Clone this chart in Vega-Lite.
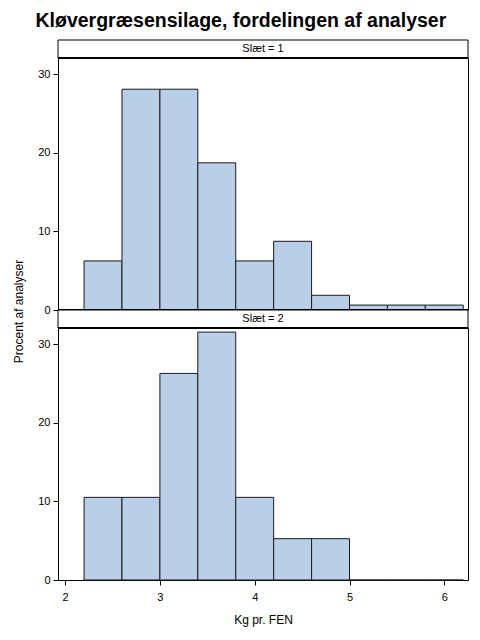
{
  "$schema": "https://vega.github.io/schema/vega-lite/v6.json",
  "padding": {"left": 12, "top": 11, "right": 11, "bottom": 10},
  "background": "white",
  "bounds": "flush",
  "title": {
    "text": "Kløvergræsensilage, fordelingen af analyser",
    "font": "Liberation Sans",
    "fontSize": 19.5,
    "fontWeight": "bold",
    "color": "black",
    "anchor": "middle",
    "offset": 8
  },
  "datasets": {
    "hist": [
      {"slaet": 1, "start": 2.2, "end": 2.6, "pct": 6.25},
      {"slaet": 1, "start": 2.6, "end": 3.0, "pct": 28.125},
      {"slaet": 1, "start": 3.0, "end": 3.4, "pct": 28.125},
      {"slaet": 1, "start": 3.4, "end": 3.8, "pct": 18.75},
      {"slaet": 1, "start": 3.8, "end": 4.2, "pct": 6.25},
      {"slaet": 1, "start": 4.2, "end": 4.6, "pct": 8.75},
      {"slaet": 1, "start": 4.6, "end": 5.0, "pct": 1.875},
      {"slaet": 1, "start": 5.0, "end": 5.4, "pct": 0.625},
      {"slaet": 1, "start": 5.4, "end": 5.8, "pct": 0.625},
      {"slaet": 1, "start": 5.8, "end": 6.2, "pct": 0.625},
      {"slaet": 2, "start": 2.2, "end": 2.6, "pct": 10.526},
      {"slaet": 2, "start": 2.6, "end": 3.0, "pct": 10.526},
      {"slaet": 2, "start": 3.0, "end": 3.4, "pct": 26.316},
      {"slaet": 2, "start": 3.4, "end": 3.8, "pct": 31.579},
      {"slaet": 2, "start": 3.8, "end": 4.2, "pct": 10.526},
      {"slaet": 2, "start": 4.2, "end": 4.6, "pct": 5.263},
      {"slaet": 2, "start": 4.6, "end": 5.0, "pct": 5.263},
      {"slaet": 2, "start": 5.0, "end": 5.4, "pct": 0},
      {"slaet": 2, "start": 5.4, "end": 5.8, "pct": 0},
      {"slaet": 2, "start": 5.8, "end": 6.2, "pct": 0}
    ],
    "strips": [
      {"slaet": 1, "label": "Slæt = 1"},
      {"slaet": 2, "label": "Slæt = 2"}
    ]
  },
  "spacing": 0,
  "vconcat": [
    {
      "width": 410,
      "height": 18,
      "data": {"name": "strips"},
      "transform": [{"filter": "datum.slaet == 1"}],
      "layer": [
        {"mark": {"type": "rect", "fill": "white", "stroke": "black", "strokeWidth": 1}, "encoding": {}},
        {"mark": {"type": "text", "font": "Liberation Sans", "fontSize": 11, "color": "black"},
         "encoding": {"text": {"field": "label", "type": "nominal"}}}
      ]
    },
    {
      "width": 410,
      "height": 252,
      "data": {"name": "hist"},
      "transform": [{"filter": "datum.slaet == 1"}],
      "layer": [
        {
          "mark": {"type": "rect", "fill": "#b9cfe7", "stroke": "#1a1a1a", "strokeWidth": 1},
          "encoding": {
            "x": {"field": "start", "type": "quantitative", "scale": {"domain": [1.925, 6.25], "nice": false, "zero": false}, "axis": null},
            "x2": {"field": "end"},
            "y": {
              "field": "pct", "type": "quantitative",
              "scale": {"domain": [0, 32.1], "nice": false},
              "axis": {"values": [0, 10, 20, 30], "title": "Procent af analyser", "titleY": 253}
            },
            "y2": {"datum": 0}
          }
        },
        {
          "mark": {"type": "rule", "color": "black", "strokeWidth": 2},
          "encoding": {"y": {"datum": 32.1}}
        },
        {
          "mark": {"type": "rule", "color": "black", "strokeWidth": 2},
          "encoding": {"y": {"datum": 0}}
        }
      ]
    },
    {
      "width": 410,
      "height": 18,
      "data": {"name": "strips"},
      "transform": [{"filter": "datum.slaet == 2"}],
      "layer": [
        {"mark": {"type": "rect", "fill": "white", "stroke": "black", "strokeWidth": 1}, "encoding": {}},
        {"mark": {"type": "text", "font": "Liberation Sans", "fontSize": 11, "color": "black"},
         "encoding": {"text": {"field": "label", "type": "nominal"}}}
      ]
    },
    {
      "width": 410,
      "height": 252,
      "data": {"name": "hist"},
      "transform": [{"filter": "datum.slaet == 2"}],
      "layer": [
        {
          "mark": {"type": "rect", "fill": "#b9cfe7", "stroke": "#1a1a1a", "strokeWidth": 1},
          "encoding": {
            "x": {
              "field": "start", "type": "quantitative",
              "scale": {"domain": [1.925, 6.25], "nice": false, "zero": false},
              "axis": {"values": [2, 3, 4, 5, 6], "title": "Kg pr. FEN", "labelPadding": 6, "titlePadding": 12}
            },
            "x2": {"field": "end"},
            "y": {
              "field": "pct", "type": "quantitative",
              "scale": {"domain": [0, 32.1], "nice": false},
              "axis": {"values": [0, 10, 20, 30], "title": null}
            },
            "y2": {"datum": 0}
          }
        },
        {
          "mark": {"type": "rule", "color": "black", "strokeWidth": 2},
          "encoding": {"y": {"datum": 32.1}}
        }
      ]
    }
  ],
  "config": {
    "view": {"stroke": "black", "strokeWidth": 1},
    "axis": {
      "domain": false,
      "grid": false,
      "ticks": true,
      "tickSize": 5,
      "tickColor": "black",
      "labelFont": "Liberation Sans",
      "labelFontSize": 11,
      "labelColor": "black",
      "labelPadding": 3,
      "titleFont": "Liberation Sans",
      "titleFontSize": 12,
      "titleFontWeight": "normal",
      "titleColor": "black",
      "titlePadding": 12
    }
  }
}
